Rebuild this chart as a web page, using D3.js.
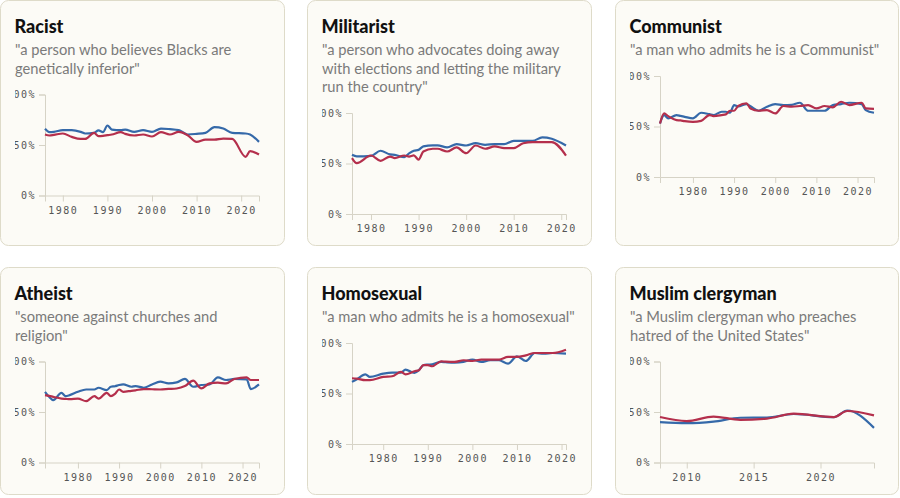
<!DOCTYPE html>
<html>
<head>
<meta charset="utf-8">
<script src="https://cdn.jsdelivr.net/npm/d3@7"></script>
<style>
  html, body { margin: 0; padding: 0; background: #fff; }
  svg { display: block; }
  .titel { font-family: Lato, "Open Sans", sans-serif; font-weight: 900; font-size: 18px; fill: #111; }
  .ondertitel { font-family: Lato, "Open Sans", sans-serif; font-size: 14.7px; fill: #7a7a7a; }
  .as text { font-family: "DejaVu Sans Mono", monospace; font-size: 10px; fill: #555; letter-spacing: 1.5px; }
  .as path, .as line { stroke: #d6d3c6; }
</style>
</head>
<body>
<svg id="chart"></svg>
<script>
// data per vraag (blauw = democraten, rood = republikeinen)
const titels = ["Racist", "Militarist", "Communist", "Atheist", "Homosexual", "Muslim clergyman"]
const ondertitels = [
    ["\"a person who believes Blacks are", "genetically inferior\""],
    ["\"a person who advocates doing away", "with elections and letting the military", "run the country\""],
    ["\"a man who admits he is a Communist\""],
    ["\"someone against churches and", "religion\""],
    ["\"a man who admits he is a homosexual\""],
    ["\"a Muslim clergyman who preaches", "hatred of the United States\""]
]

const racistJaren = [1976, 1977, 1978, 1980, 1982, 1984, 1985, 1987, 1988, 1989, 1990, 1991, 1993, 1994, 1996, 1998, 2000, 2002, 2004, 2006, 2008, 2010, 2012, 2014, 2016, 2018, 2021, 2022, 2024]
const racistBlauw = [66, 62.7, 63, 64.7, 64.7, 63, 61.4, 62, 64.4, 62.7, 69.3, 65.3, 64.7, 65.3, 63, 64.7, 63, 66.3, 65.7, 64.7, 60.4, 61, 62, 67.7, 66.3, 62, 61.4, 60.4, 53.1]
const racistRood = [60.4, 59.4, 60, 61.4, 58, 56, 56, 62, 58.7, 59, 59.7, 60.4, 62.7, 61, 59.4, 60.4, 58.4, 62.7, 60.4, 63, 59.7, 53.1, 55.4, 55.4, 56.4, 56, 38.3, 43.9, 40.6]

const militaristJaren = [1976, 1977, 1980, 1982, 1984, 1985, 1987, 1988, 1989, 1990, 1991, 1993, 1994, 1996, 1998, 2000, 2002, 2004, 2006, 2008, 2010, 2012, 2014, 2016, 2018, 2021]
const militaristBlauw = [58.6, 57, 57.5, 62.6, 59, 58.6, 56.3, 60, 62.6, 63.5, 67, 68, 68, 65.9, 69.2, 67.8, 70.2, 68.5, 69.2, 69.2, 72.5, 72.5, 72.5, 75.8, 74.5, 67.8]
const militaristRood = [55.3, 50.3, 57.9, 52.6, 56.9, 55.3, 57.9, 56.9, 58, 53.9, 61.9, 64.6, 64.6, 61.9, 65.9, 60.2, 67.8, 64.6, 66.9, 65.2, 65.2, 70, 71.2, 71.2, 71.2, 57.9]

const communistJaren = [1972, 1973, 1974, 1976, 1977, 1978, 1980, 1982, 1984, 1985, 1987, 1988, 1989, 1990, 1991, 1993, 1994, 1996, 1998, 2000, 2002, 2004, 2006, 2008, 2010, 2012, 2014, 2016, 2018, 2021, 2022, 2024]
const communistBlauw = [53, 61.3, 58, 61.3, 60.5, 59.6, 58, 63.6, 62.2, 61.3, 64.6, 64.6, 63.6, 71.2, 70, 72.2, 70, 65.6, 69.6, 72.2, 71.2, 71.5, 73.5, 65.6, 65.6, 65.6, 71.2, 72.2, 73.5, 72.2, 66.2, 63.6]
const communistRood = [53, 62.9, 60.3, 56.3, 56, 55.3, 54.6, 55.6, 61.3, 60.3, 61.3, 62, 65.6, 65.6, 70.3, 72.9, 67.9, 65.6, 66.2, 62.9, 70.3, 69.6, 70.3, 71.2, 67.9, 70.3, 69, 74.5, 71.2, 73.5, 67.9, 67.5]

const atheistJaren = [1972, 1973, 1974, 1976, 1977, 1978, 1980, 1982, 1984, 1985, 1987, 1988, 1989, 1990, 1991, 1993, 1994, 1996, 1998, 2000, 2002, 2004, 2006, 2008, 2010, 2012, 2014, 2016, 2018, 2021, 2022, 2024]
const atheistBlauw = [70, 65, 61.7, 69, 65.7, 66.7, 70, 72.3, 72.3, 74, 71.7, 75, 75.5, 76.7, 77.3, 75, 75.7, 74, 77.3, 80, 78.3, 79.3, 82.7, 75, 76.7, 77.3, 84.3, 81.7, 82.7, 82.3, 72.7, 77.3]
const atheistRood = [66.7, 66, 65, 63.3, 63, 62.7, 63.3, 60.7, 65.7, 63.3, 69, 65.7, 68, 72.3, 70, 71, 71.5, 72.7, 72.5, 72.3, 72.8, 73.3, 75.7, 81, 73.3, 78.3, 79, 78.3, 82.7, 84.3, 81.7, 81.7]

const homoJaren = [1973, 1974, 1976, 1977, 1980, 1982, 1984, 1985, 1987, 1988, 1989, 1990, 1991, 1993, 1994, 1996, 1998, 2000, 2002, 2004, 2006, 2008, 2010, 2012, 2014, 2016, 2018, 2021]
const homoBlauw = [61.5, 63.8, 69, 66.4, 69.7, 70.7, 70.7, 73.7, 70.4, 73, 78, 78.6, 78.9, 81.3, 81, 80.6, 81.3, 83.6, 81.3, 82.9, 82.9, 79.6, 86.8, 82.2, 90.1, 89.5, 90.1, 89.5]
const homoRood = [65.1, 64.8, 63.2, 63.2, 66.5, 67.1, 71.4, 69, 72, 73, 78, 78, 77, 81.9, 81.5, 81.3, 82.9, 82.2, 83.6, 83.6, 83.6, 86.2, 86.2, 87.8, 90.1, 90.1, 90.1, 93.4]

const moslimJaren = [2008, 2010, 2012, 2014, 2016, 2018, 2021, 2022, 2024]
const moslimBlauw = [40, 39, 40.5, 44.3, 44.5, 48, 45, 51.5, 34.3]
const moslimRood = [45, 41, 45.5, 42.3, 43.5, 48.3, 45, 51, 46.7]

const jaarDomeinen = [[1976, 2024], [1976, 2021], [1972, 2024], [1972, 2024], [1973, 2021], [2008, 2024]]
const jaarTicks = [
    [1980, 1990, 2000, 2010, 2020],
    [1980, 1990, 2000, 2010, 2020],
    [1980, 1990, 2000, 2010, 2020],
    [1980, 1990, 2000, 2010, 2020],
    [1980, 1990, 2000, 2010, 2020],
    [2010, 2015, 2020]
]
const procentTicks = [0, 50, 100]

const alleJaren = [racistJaren, militaristJaren, communistJaren, atheistJaren, homoJaren, moslimJaren]
const alleBlauw = [racistBlauw, militaristBlauw, communistBlauw, atheistBlauw, homoBlauw, moslimBlauw]
const alleRood = [racistRood, militaristRood, communistRood, atheistRood, homoRood, moslimRood]

const width = 900
const height = 498
const kolommen = [0.5, 307.5, 615.5]
const rijen = [0.5, 267.5]
const kaartBreedte = [284, 284, 283]
const kaartHoogte = [245, 227]
const blauw = "#3569a9"
const rood = "#b42f4c"

const svg = d3.select("#chart")
    .attr("width", width)
    .attr("height", height)

titels.forEach((titel, i) => tekenKaart(i))

function tekenKaart(i) {
    const kx = kolommen[i % 3]
    const ky = rijen[Math.floor(i / 3)]
    const kw = kaartBreedte[i % 3]
    const kh = kaartHoogte[Math.floor(i / 3)]

    const g = svg.append("g")

    g.append("rect")
        .attr("x", kx)
        .attr("y", ky)
        .attr("width", kw)
        .attr("height", kh)
        .attr("rx", 8)
        .attr("fill", "#fcfbf6")
        .attr("stroke", "#dedbc9")

    g.append("text")
        .attr("class", "titel")
        .attr("x", kx + 14)
        .attr("y", ky + 32)
        .text(titels[i])

    const regels = ondertitels[i]
    g.selectAll(".ondertitel")
        .data(regels)
        .enter()
        .append("text")
        .attr("class", "ondertitel")
        .attr("x", kx + 14.5)
        .attr("y", (d, r) => ky + 54.5 + r * 18.5)
        .text(d => d)

    // grafiek
    const plotLinks = kx + 44.5
    const plotBoven = ky + 54.5 + (regels.length - 1) * 18.5 + 21
    const x = d3.scaleLinear()
        .domain(jaarDomeinen[i])
        .range([plotLinks, plotLinks + 214])
    const y = d3.scaleLinear()
        .domain([0, 100])
        .range([plotBoven + 101, plotBoven])

    svg.append("clipPath")
        .attr("id", "clip" + i)
        .append("rect")
        .attr("x", kx + 14.5)
        .attr("y", ky)
        .attr("width", kw - 14.5)
        .attr("height", kh)

    const plot = g.append("g")
        .attr("clip-path", "url(#clip" + i + ")")

    plot.append("g")
        .attr("class", "as")
        .attr("transform", "translate(0," + y(0) + ")")
        .call(d3.axisBottom(x).tickValues(jaarTicks[i]).tickFormat(d3.format("d")).tickPadding(5))

    plot.append("g")
        .attr("class", "as")
        .attr("transform", "translate(" + x.range()[0] + ",0)")
        .call(d3.axisLeft(y).tickValues(procentTicks).tickFormat(d => d + "%").tickPadding(3))

    const punten = (waarden) => alleJaren[i].map((jaar, j) => ({ jaar: jaar, waarde: waarden[j] }))
    const lijn = d3.line()
        .x(d => x(d.jaar))
        .y(d => y(d.waarde))
        .curve(d3.curveMonotoneX)

    plot.append("path")
        .datum(punten(alleBlauw[i]))
        .attr("d", lijn)
        .attr("fill", "none")
        .attr("stroke", blauw)
        .attr("stroke-width", 2.2)

    plot.append("path")
        .datum(punten(alleRood[i]))
        .attr("d", lijn)
        .attr("fill", "none")
        .attr("stroke", rood)
        .attr("stroke-width", 2.2)
}
</script>
</body>
</html>
